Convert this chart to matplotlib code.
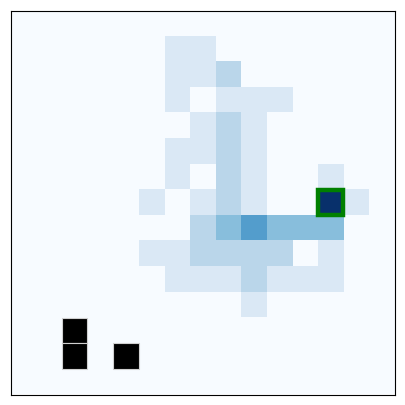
import numpy as np
import matplotlib
matplotlib.use("Agg")
import matplotlib.pyplot as plt
from matplotlib.patches import Rectangle

# visit counts on the 15x15 grid (row 0 = top)
visits = [
    [0, 0, 0, 0, 0, 0, 0, 0, 0, 0, 0, 0, 0, 0, 0],
    [0, 0, 0, 0, 0, 0, 1, 1, 0, 0, 0, 0, 0, 0, 0],
    [0, 0, 0, 0, 0, 0, 1, 1, 2, 0, 0, 0, 0, 0, 0],
    [0, 0, 0, 0, 0, 0, 1, 0, 1, 1, 1, 0, 0, 0, 0],
    [0, 0, 0, 0, 0, 0, 0, 1, 2, 1, 0, 0, 0, 0, 0],
    [0, 0, 0, 0, 0, 0, 1, 1, 2, 1, 0, 0, 0, 0, 0],
    [0, 0, 0, 0, 0, 0, 1, 0, 2, 1, 0, 0, 1, 0, 0],
    [0, 0, 0, 0, 0, 1, 0, 1, 2, 1, 0, 0, 7, 1, 0],
    [0, 0, 0, 0, 0, 0, 0, 2, 3, 4, 3, 3, 3, 0, 0],
    [0, 0, 0, 0, 0, 1, 1, 2, 2, 2, 2, 0, 1, 0, 0],
    [0, 0, 0, 0, 0, 0, 1, 1, 1, 2, 1, 1, 1, 0, 0],
    [0, 0, 0, 0, 0, 0, 0, 0, 0, 1, 0, 0, 0, 0, 0],
    [0, 0, 0, 0, 0, 0, 0, 0, 0, 0, 0, 0, 0, 0, 0],
    [0, 0, 0, 0, 0, 0, 0, 0, 0, 0, 0, 0, 0, 0, 0],
    [0, 0, 0, 0, 0, 0, 0, 0, 0, 0, 0, 0, 0, 0, 0],
]

# obstacles as (row, col)
walls = [(12, 2), (13, 2), (13, 4)]
goal = (7, 12)

fig = plt.figure(figsize=(4.05, 4.05), dpi=100)
ax = fig.add_axes([10.5 / 405, 10.5 / 405, 384 / 405, 384 / 405])

grid = np.array(visits)
ax.imshow(grid, cmap="Blues", vmin=0, vmax=grid.max(), interpolation="nearest")

for r, c in walls:
    ax.add_patch(Rectangle((c - 0.5, r - 0.5), 1, 1, facecolor="black",
                           edgecolor="#d0d0d0", linewidth=0.8))

gr, gc = goal
ax.add_patch(Rectangle((gc - 0.5, gr - 0.5), 1, 1, fill=False,
                       edgecolor="green", linewidth=3.2))

ax.set_xticks([])
ax.set_yticks([])

fig.savefig("out.png", dpi=100)
